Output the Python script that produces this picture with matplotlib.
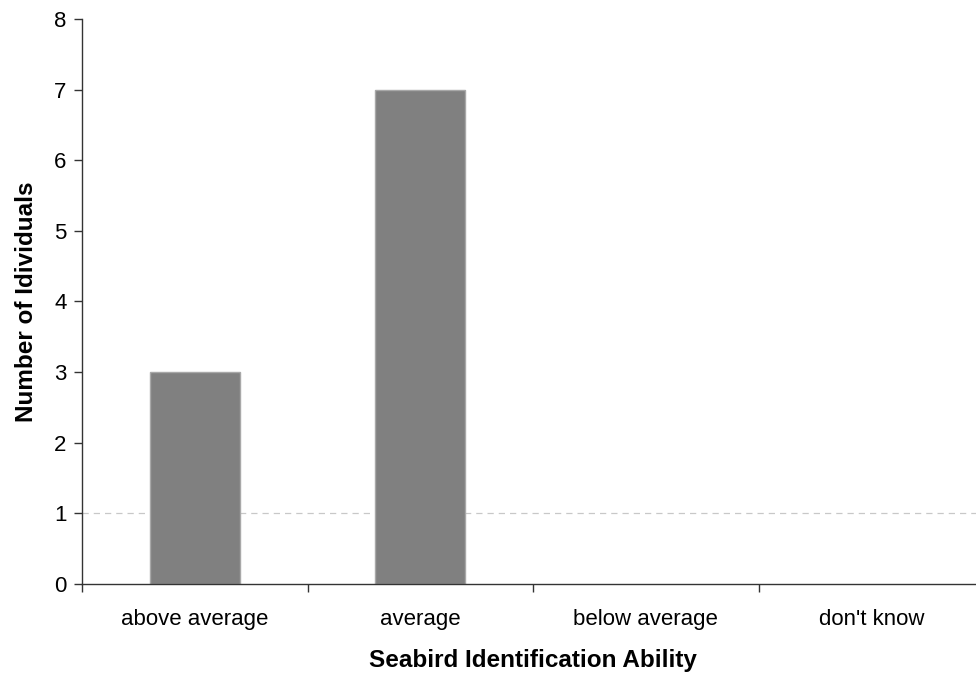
import matplotlib
matplotlib.use("Agg")
import matplotlib.pyplot as plt
import numpy as np

categories = ["above average", "average", "below average", "don't know"]
values = [3, 7, 0, 0]

plt.rcParams['font.family'] = ['Liberation Sans', 'DejaVu Sans']

fig = plt.figure(figsize=(9.76, 6.79), dpi=100)
ax = fig.add_axes([82/976, 95/679, 902/976, 565/679])

x = np.arange(len(categories))
ax.bar(x, values, width=0.4, color='#808080', edgecolor='#a8a8a8',
       linewidth=[1.0 if v > 0 else 0 for v in values], zorder=2)
ax.axhline(1, color='#c8c8c8', linestyle=(0, (5, 4)), linewidth=0.9, zorder=1)

ax.set_xlim(-0.5, len(categories) - 0.5)
ax.set_ylim(0, 8)
ax.set_yticks(range(0, 9))
ax.set_xticks(x)
ax.set_xticklabels(categories, fontsize=16)
ax.set_xticks(np.arange(-0.5, len(categories), 1), minor=True)
ax.tick_params(axis='x', which='major', length=0, pad=18)
ax.tick_params(axis='x', which='minor', length=6, width=1, color='#333333', direction='out')
ax.tick_params(axis='y', length=6, width=1, color='#333333', direction='out', labelsize=16, pad=5)

for s in ['top', 'right']:
    ax.spines[s].set_visible(False)
for s in ['left', 'bottom']:
    ax.spines[s].set_color('#333333')
    ax.spines[s].set_linewidth(1.0)

ax.set_xlabel("Seabird Identification Ability", fontsize=17.5, fontweight='bold', labelpad=14)
ax.set_ylabel("Number of Idividuals", fontsize=17.5, fontweight='bold', labelpad=12)

fig.savefig("out.png", dpi=100)
